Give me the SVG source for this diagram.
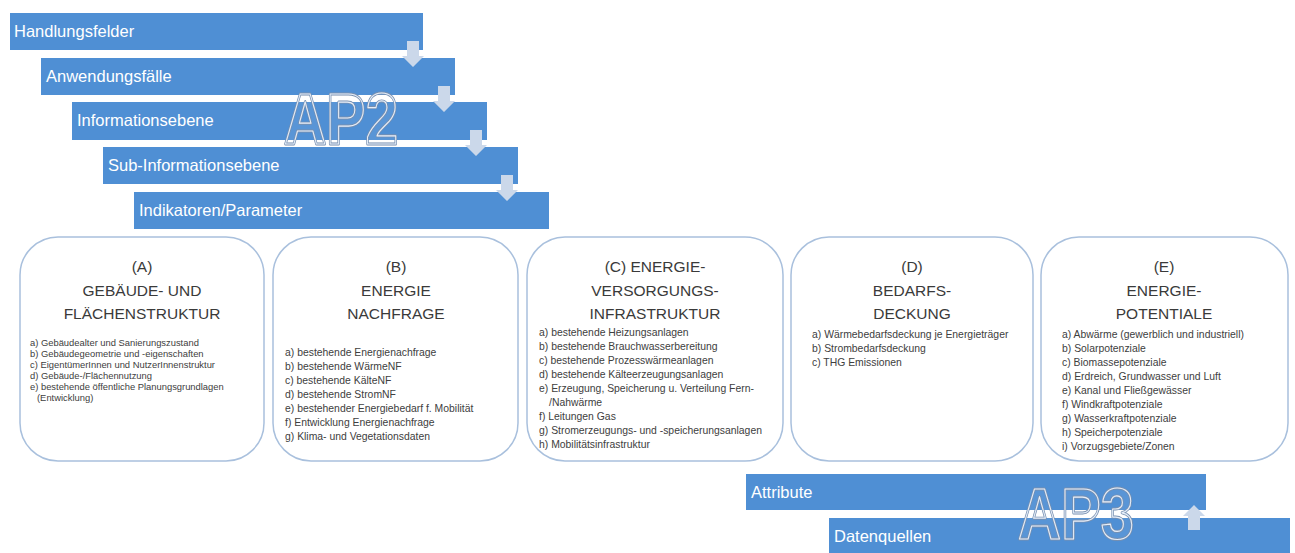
<svg xmlns="http://www.w3.org/2000/svg" xmlns:xlink="http://www.w3.org/1999/xlink" width="1295" height="553" viewBox="0 0 1295 553">
<style>
.bar{fill:#4f8fd4}
.bt{font-family:"Liberation Sans",Arial,sans-serif;font-size:16.5px;fill:#ffffff}
.box{fill:#ffffff;stroke:#a9c0dd;stroke-width:1.5}
.ti{font-family:"Liberation Sans",Arial,sans-serif;font-size:15.5px;fill:#3a3a3a;text-anchor:middle}
.li{font-family:"Liberation Sans",Arial,sans-serif;font-size:10.4px;fill:#404040}
.la{font-family:"Liberation Sans",Arial,sans-serif;font-size:9.4px;fill:#404040}
.arr{fill:#cbd8ea}
.wmt{font-family:"Liberation Sans",Arial,sans-serif;font-size:72px;font-weight:bold;stroke-linejoin:round}
.wo{fill:#ffffff;fill-opacity:0.06;stroke:#7890b0;stroke-width:3}
.wi{fill:none;stroke:#e6eef9;stroke-width:1.2}
</style>
<defs>
<text id="ap2t" class="wmt" x="284" y="144" textLength="114" lengthAdjust="spacingAndGlyphs">AP2</text>
<text id="ap3t" class="wmt" x="1018" y="539" textLength="116" lengthAdjust="spacingAndGlyphs">AP3</text>
</defs>
<rect width="1295" height="553" fill="#ffffff"/>
<g id="handlungsfelder"><rect class="bar" x="10" y="13" width="413" height="37"/><text class="bt" x="14" y="37">Handlungsfelder</text></g>
<g id="anwendungsfaelle"><rect class="bar" x="41" y="58" width="414" height="37"/><text class="bt" x="46" y="82">Anwendungsfälle</text></g>
<g id="informationsebene"><rect class="bar" x="72" y="102" width="415" height="38"/><text class="bt" x="77" y="126">Informationsebene</text></g>
<g id="sub-informationsebene"><rect class="bar" x="103" y="147" width="415" height="37"/><text class="bt" x="108" y="171">Sub-Informationsebene</text></g>
<g id="indikatoren"><rect class="bar" x="134" y="192" width="415" height="37"/><text class="bt" x="139" y="216">Indikatoren/Parameter</text></g>
<g id="attribute"><rect class="bar" x="746" y="474" width="460" height="36"/><text class="bt" x="751" y="498">Attribute</text></g>
<g id="datenquellen"><rect class="bar" x="829" y="518" width="461" height="40"/><text class="bt" x="834" y="542">Datenquellen</text></g>
<g id="connectors">
<path class="arr" d="M407 41 H419 V56 H424 L413 67 L402 56 H407 Z"/>
<path class="arr" d="M438 86 H450 V101 H455 L444 112 L433 101 H438 Z"/>
<path class="arr" d="M470 130 H482 V145 H487 L476 156 L465 145 H470 Z"/>
<path class="arr" d="M501 175 H513 V190 H518 L507 201 L496 190 H501 Z"/>
<path class="arr" d="M1188 530 H1200 V516 H1205 L1194 505 L1183 516 H1188 Z"/>
</g>
<g id="ap2"><use xlink:href="#ap2t" class="wo"/><use xlink:href="#ap2t" class="wi"/></g>
<g id="ap3"><use xlink:href="#ap3t" class="wo"/><use xlink:href="#ap3t" class="wi"/></g>
<g id="box-a">
<rect class="box" x="20" y="237" width="244" height="224" rx="38"/>
<text class="ti" x="142" y="272">(A)</text>
<text class="ti" x="142" y="296">GEBÄUDE- UND</text>
<text class="ti" x="142" y="319">FLÄCHENSTRUKTUR</text>
<text class="la" x="30" y="346">a) Gebäudealter und Sanierungszustand</text>
<text class="la" x="30" y="357">b) Gebäudegeometrie und -eigenschaften</text>
<text class="la" x="30" y="368">c) EigentümerInnen und NutzerInnenstruktur</text>
<text class="la" x="30" y="379">d) Gebäude-/Flächennutzung</text>
<text class="la" x="30" y="390">e) bestehende öffentliche Planungsgrundlagen</text>
<text class="la" x="37" y="401">(Entwicklung)</text>
</g>
<g id="box-b">
<rect class="box" x="273" y="237" width="245" height="224" rx="38"/>
<text class="ti" x="396" y="272">(B)</text>
<text class="ti" x="396" y="296">ENERGIE</text>
<text class="ti" x="396" y="319">NACHFRAGE</text>
<text class="li" x="285" y="356">a) bestehende Energienachfrage</text>
<text class="li" x="285" y="370">b) bestehende WärmeNF</text>
<text class="li" x="285" y="384">c) bestehende KälteNF</text>
<text class="li" x="285" y="398">d) bestehende StromNF</text>
<text class="li" x="285" y="412">e) bestehender Energiebedarf f. Mobilität</text>
<text class="li" x="285" y="426">f) Entwicklung Energienachfrage</text>
<text class="li" x="285" y="440">g) Klima- und Vegetationsdaten</text>
</g>
<g id="box-c">
<rect class="box" x="527" y="237" width="256" height="224" rx="38"/>
<text class="ti" x="655" y="272">(C) ENERGIE-</text>
<text class="ti" x="655" y="296">VERSORGUNGS-</text>
<text class="ti" x="655" y="319">INFRASTRUKTUR</text>
<text class="li" x="539" y="336">a) bestehende Heizungsanlagen</text>
<text class="li" x="539" y="350">b) bestehende Brauchwasserbereitung</text>
<text class="li" x="539" y="364">c) bestehende Prozesswärmeanlagen</text>
<text class="li" x="539" y="378">d) bestehende Kälteerzeugungsanlagen</text>
<text class="li" x="539" y="392">e) Erzeugung, Speicherung u. Verteilung Fern-</text>
<text class="li" x="549" y="406">/Nahwärme</text>
<text class="li" x="539" y="420">f) Leitungen Gas</text>
<text class="li" x="539" y="434">g) Stromerzeugungs- und -speicherungsanlagen</text>
<text class="li" x="539" y="448">h) Mobilitätsinfrastruktur</text>
</g>
<g id="box-d">
<rect class="box" x="791" y="237" width="242" height="224" rx="38"/>
<text class="ti" x="912" y="272">(D)</text>
<text class="ti" x="912" y="296">BEDARFS-</text>
<text class="ti" x="912" y="319">DECKUNG</text>
<text class="li" x="812" y="338">a) Wärmebedarfsdeckung je Energieträger</text>
<text class="li" x="812" y="352">b) Strombedarfsdeckung</text>
<text class="li" x="812" y="366">c) THG Emissionen</text>
</g>
<g id="box-e">
<rect class="box" x="1041" y="237" width="247" height="224" rx="38"/>
<text class="ti" x="1164" y="272">(E)</text>
<text class="ti" x="1164" y="296">ENERGIE-</text>
<text class="ti" x="1164" y="319">POTENTIALE</text>
<text class="li" x="1062" y="338">a) Abwärme (gewerblich und industriell)</text>
<text class="li" x="1062" y="352">b) Solarpotenziale</text>
<text class="li" x="1062" y="366">c) Biomassepotenziale</text>
<text class="li" x="1062" y="380">d) Erdreich, Grundwasser und Luft</text>
<text class="li" x="1062" y="394">e) Kanal und Fließgewässer</text>
<text class="li" x="1062" y="408">f) Windkraftpotenziale</text>
<text class="li" x="1062" y="422">g) Wasserkraftpotenziale</text>
<text class="li" x="1062" y="436">h) Speicherpotenziale</text>
<text class="li" x="1062" y="450">i) Vorzugsgebiete/Zonen</text>
</g>
</svg>
